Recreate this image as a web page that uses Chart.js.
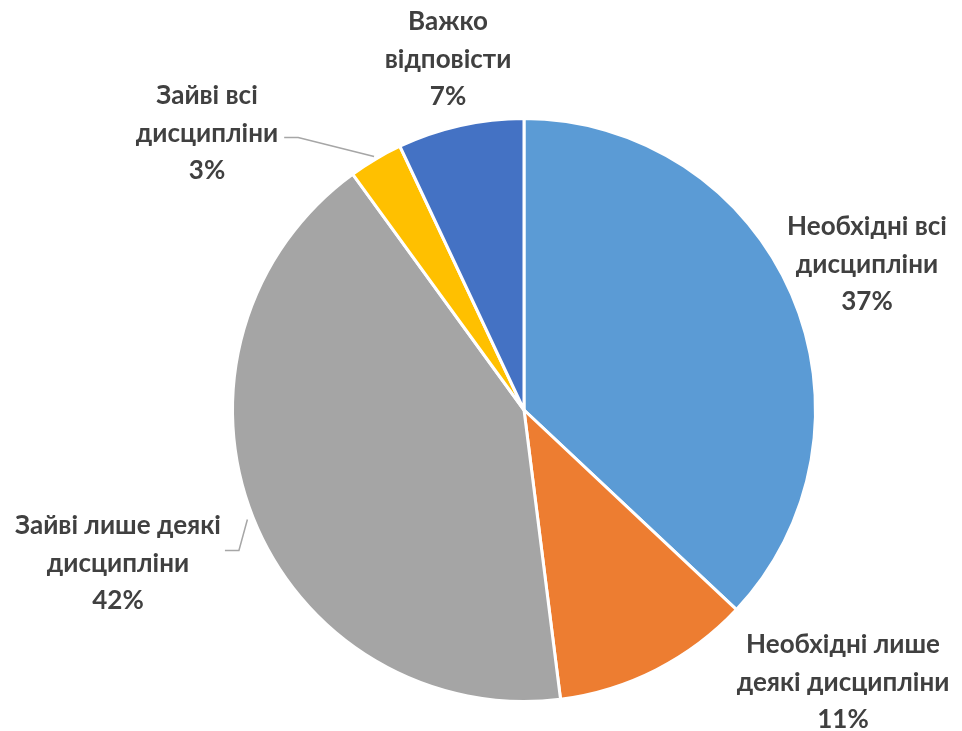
<!DOCTYPE html>
<html>
<head>
<meta charset="utf-8">
<script src="https://cdn.jsdelivr.net/npm/chart.js@4.4.1/dist/chart.umd.min.js"></script>
<style>
  html, body { margin: 0; padding: 0; background: #fff; }
  #wrap { width: 962px; height: 731px; }
</style>
</head>
<body>
<div id="wrap"><canvas id="pieChart" width="962" height="731"></canvas></div>
<script>
const categories = [
    ['Необхідні всі', 'дисципліни'],
    ['Необхідні лише', 'деякі дисципліни'],
    ['Зайві лише деякі', 'дисципліни'],
    ['Зайві всі', 'дисципліни'],
    ['Важко', 'відповісти']
];
const shares = [37, 11, 42, 3, 7];
const colors = ['#5B9BD5', '#ED7D31', '#A5A5A5', '#FFC000', '#4472C4'];

// label block centres (first line), relative to the pie centre
const labelOffsets = [[343, -183], [319, 235], [-406, 116], [-317, -314], [-76, -388]];

const labelFont = 'bold 26px Lato, "Open Sans", sans-serif';
const lineH = 37.5;

const pieLabels = {
    id: 'pieLabels',
    afterDatasetsDraw(chart) {
        const ctx = chart.ctx;
        const meta = chart.getDatasetMeta(0);
        ctx.save();
        ctx.font = labelFont;
        ctx.fillStyle = '#404040';
        ctx.textAlign = 'center';
        ctx.textBaseline = 'middle';
        meta.data.forEach((arc, i) => {
            const cx = arc.x, cy = arc.y;
            const lx = cx + labelOffsets[i][0];
            const ly = cy + labelOffsets[i][1];
            const lines = categories[i].concat([shares[i] + '%']);
            lines.forEach((t, k) => ctx.fillText(t, lx, ly + k * lineH));

            // leader lines for the two labels pulled away from their slices
            if (i === 2 || i === 3) {
                const mid = (arc.startAngle + arc.endAngle) / 2;
                const r = arc.outerRadius + (i === 2 ? 6 : 3);
                const ex = cx + Math.cos(mid) * r;
                const ey = cy + Math.sin(mid) * r;
                let sx, sy;
                if (i === 3) {
                    sx = lx + ctx.measureText(lines[1]).width / 2 + 6;
                    sy = ly + lineH + 4;
                } else {
                    sx = lx + ctx.measureText(lines[0]).width / 2 + 4;
                    sy = ly + lineH * 0.65;
                }
                ctx.strokeStyle = '#A6A6A6';
                ctx.lineWidth = 1.5;
                ctx.beginPath();
                ctx.moveTo(sx, sy);
                ctx.lineTo(sx + 14, sy);
                ctx.lineTo(ex, ey);
                ctx.stroke();
            }
        });
        ctx.restore();
    }
};

const ctx = document.getElementById('pieChart').getContext('2d');
new Chart(ctx, {
    type: 'pie',
    data: {
        labels: categories.map(c => c.join(' ')),
        datasets: [{
            data: shares,
            backgroundColor: colors,
            borderColor: '#ffffff',
            borderWidth: 3
        }]
    },
    options: {
        responsive: false,
        animation: false,
        layout: { padding: { left: 231, right: 145, top: 117, bottom: 28 } },
        plugins: {
            legend: { display: false },
            tooltip: { enabled: false }
        }
    },
    plugins: [pieLabels]
});
</script>
</body>
</html>
